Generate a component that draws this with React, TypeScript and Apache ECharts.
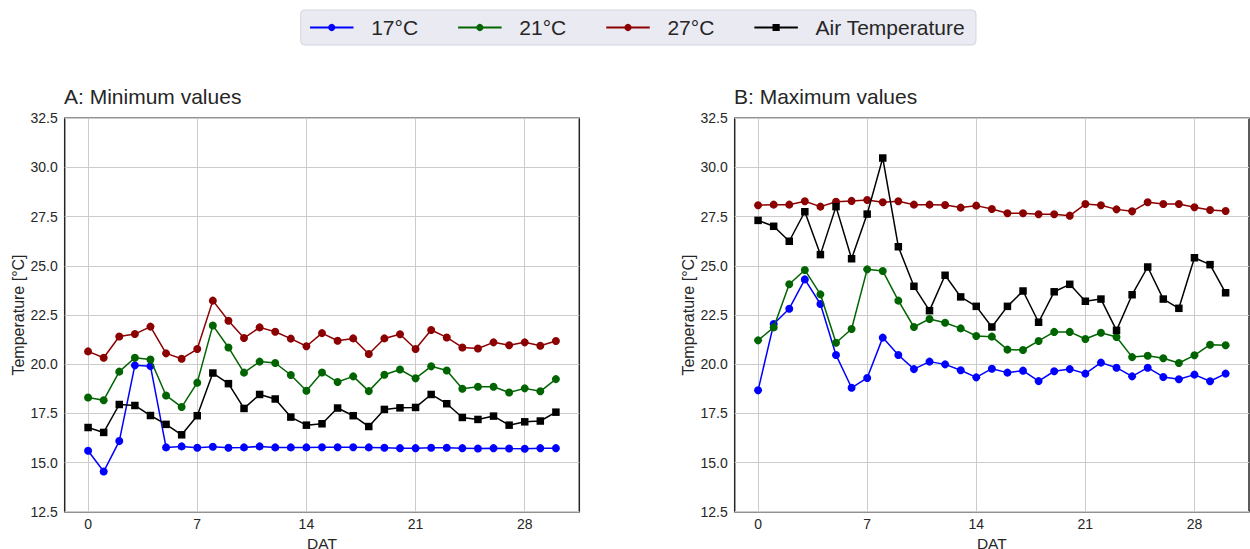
import React, { useEffect, useRef } from "react";
import * as echarts from "echarts";

const DAYS = [0, 1, 2, 3, 4, 5, 6, 7, 8, 9, 10, 11, 12, 13, 14, 15, 16, 17, 18, 19, 20, 21, 22, 23, 24, 25, 26, 27, 28, 29, 30];
const X_TICKS = [0, 7, 14, 21, 28];
const SERIES_NAMES = ["17°C", "21°C", "27°C", "Air Temperature"];

// A: Minimum values
const MIN_17 = [15.60, 14.54, 16.09, 19.94, 19.90, 15.77, 15.82, 15.75, 15.80, 15.75, 15.77, 15.82, 15.77, 15.77, 15.77, 15.78, 15.78, 15.78, 15.77, 15.75, 15.73, 15.73, 15.75, 15.75, 15.73, 15.71, 15.73, 15.71, 15.70, 15.73, 15.73];
const MIN_21 = [18.31, 18.17, 19.62, 20.33, 20.24, 18.41, 17.82, 19.06, 21.97, 20.85, 19.57, 20.13, 20.06, 19.45, 18.65, 19.58, 19.09, 19.38, 18.63, 19.46, 19.73, 19.28, 19.89, 19.68, 18.75, 18.85, 18.85, 18.56, 18.77, 18.62, 19.24];
const MIN_27 = [20.65, 20.33, 21.41, 21.53, 21.91, 20.55, 20.28, 20.77, 23.23, 22.21, 21.33, 21.87, 21.65, 21.30, 20.91, 21.58, 21.19, 21.31, 20.52, 21.31, 21.52, 20.77, 21.74, 21.36, 20.85, 20.80, 21.11, 20.96, 21.11, 20.94, 21.18];
const MIN_AIR = [16.78, 16.53, 17.95, 17.90, 17.39, 16.94, 16.41, 17.38, 19.55, 19.01, 17.75, 18.46, 18.23, 17.31, 16.90, 16.97, 17.77, 17.38, 16.83, 17.70, 17.78, 17.80, 18.46, 17.99, 17.29, 17.19, 17.36, 16.90, 17.07, 17.11, 17.56];

// B: Maximum values
const MAX_17 = [18.67, 22.04, 22.82, 24.31, 23.06, 20.47, 18.80, 19.30, 21.35, 20.47, 19.75, 20.13, 19.99, 19.69, 19.33, 19.77, 19.57, 19.67, 19.14, 19.64, 19.75, 19.52, 20.08, 19.82, 19.38, 19.82, 19.35, 19.23, 19.47, 19.13, 19.52];
const MAX_21 = [21.21, 21.87, 24.06, 24.79, 23.55, 21.09, 21.79, 24.82, 24.74, 23.23, 21.89, 22.30, 22.11, 21.82, 21.43, 21.40, 20.74, 20.72, 21.18, 21.64, 21.64, 21.28, 21.60, 21.38, 20.36, 20.43, 20.30, 20.06, 20.45, 20.99, 20.96];
const MAX_27 = [28.08, 28.11, 28.11, 28.28, 28.01, 28.26, 28.30, 28.35, 28.23, 28.28, 28.11, 28.11, 28.09, 27.96, 28.06, 27.89, 27.67, 27.67, 27.62, 27.62, 27.55, 28.14, 28.08, 27.87, 27.77, 28.23, 28.14, 28.14, 27.98, 27.84, 27.79];
const MAX_AIR = [27.31, 27.01, 26.25, 27.75, 25.57, 28.01, 25.36, 27.63, 30.48, 25.97, 23.96, 22.72, 24.52, 23.42, 22.94, 21.89, 22.94, 23.72, 22.13, 23.68, 24.06, 23.20, 23.31, 21.72, 23.53, 24.94, 23.31, 22.84, 25.41, 25.06, 23.63];

const COLORS = ["#0000ff", "#006400", "#8b0000", "#000000"];
const SYMBOLS = ["circle", "circle", "circle", "rect"];
const SYMBOL_SIZES = [8, 8, 8, 7.5];

const FONT = "'Liberation Sans', Arial, sans-serif";
const TEXT = "#262626";

function pairs(vals: number[]) {
  return DAYS.map((d, i) => [d, vals[i]]);
}

export default function App() {
  const ref = useRef<HTMLDivElement>(null);
  useEffect(() => {
    if (!ref.current) return;
    const chart = echarts.init(ref.current, undefined, { renderer: "svg" });
    const grids = [
      { left: 64.7, top: 118.3, width: 514.6, height: 393.4 },
      { left: 734.7, top: 118.3, width: 514.3, height: 393.4 },
    ];
    const mkX = (gi: number) => ({
      type: "value",
      gridIndex: gi,
      min: -1.5,
      max: 31.5,
      name: "DAT",
      nameLocation: "middle",
      nameGap: 16,
      nameTextStyle: { fontSize: 15.5, lineHeight: 16, color: TEXT, fontFamily: FONT },
      axisLine: { show: false },
      axisTick: { show: false, customValues: X_TICKS },
      axisLabel: { customValues: X_TICKS, fontSize: 14, color: TEXT, fontFamily: FONT, margin: 5 },
      splitLine: { show: true, lineStyle: { color: "#cccccc", width: 1 } },
    });
    const mkY = (gi: number) => ({
      type: "value",
      gridIndex: gi,
      min: 12.5,
      max: 32.5,
      interval: 2.5,
      name: "Temperature [°C]",
      nameLocation: "middle",
      nameGap: 38,
      nameTextStyle: { fontSize: 16, color: TEXT, fontFamily: FONT },
      axisLine: { show: false },
      axisTick: { show: false },
      axisLabel: {
        fontSize: 14,
        color: TEXT,
        fontFamily: FONT,
        margin: 7,
        formatter: (v: number) => v.toFixed(1),
      },
      splitLine: { show: true, lineStyle: { color: "#cccccc", width: 1 } },
    });
    const groups = [
      [MIN_17, MIN_21, MIN_27, MIN_AIR],
      [MAX_17, MAX_21, MAX_27, MAX_AIR],
    ];
    const series: any[] = [];
    groups.forEach((g, gi) => {
      g.forEach((vals, si) => {
        series.push({
          type: "line",
          name: SERIES_NAMES[si],
          xAxisIndex: gi,
          yAxisIndex: gi,
          data: pairs(vals),
          symbol: SYMBOLS[si],
          symbolSize: SYMBOL_SIZES[si],
          showAllSymbol: true,
          color: COLORS[si],
          itemStyle: { color: COLORS[si] },
          lineStyle: { color: COLORS[si], width: 1.5 },
          z: 2 + si,
        });
      });
    });
    chart.setOption({
      animation: false,
      textStyle: { fontFamily: FONT },
      title: [
        {
          text: "A: Minimum values",
          left: 64,
          top: 86,
          padding: 0,
          textStyle: { fontSize: 21, fontWeight: "normal", color: TEXT, fontFamily: FONT },
        },
        {
          text: "B: Maximum values",
          left: 734,
          top: 86,
          padding: 0,
          textStyle: { fontSize: 21, fontWeight: "normal", color: TEXT, fontFamily: FONT },
        },
      ],
      legend: {
        data: SERIES_NAMES,
        left: 300.7,
        top: 10,
        padding: [7, 11, 7, 8.3],
        itemWidth: 43.5,
        itemHeight: 9,
        itemGap: 39,
        backgroundColor: "#eaeaf2",
        borderColor: "#d5d5dd",
        borderWidth: 1,
        borderRadius: 4,
        textStyle: { fontSize: 21, color: TEXT, fontFamily: FONT, padding: [0, 0, 0, 12.7] },
      },
      grid: grids.map((g) => ({
        ...g,
        show: true,
        borderColor: "#262626",
        borderWidth: 1.5,
        backgroundColor: "transparent",
        containLabel: false,
        outerBoundsMode: "none",
      })),
      xAxis: [mkX(0), mkX(1)],
      yAxis: [mkY(0), mkY(1)],
      series,
    });
    return () => chart.dispose();
  }, []);
  return (
    <div
      ref={ref}
      style={{ position: "fixed", left: 0, top: 0, width: 1250, height: 549, background: "#ffffff" }}
    />
  );
}
